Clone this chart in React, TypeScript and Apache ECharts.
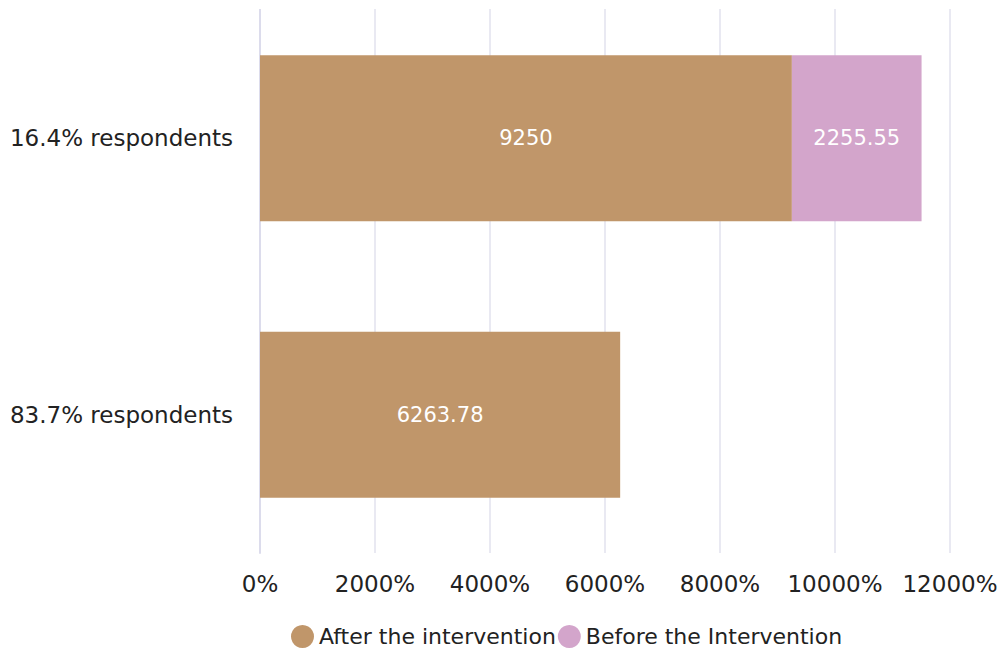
import React, { useEffect, useRef } from "react";
import * as echarts from "echarts";

const categories = ["16.4% respondents", "83.7% respondents"];
const afterValues = [9250, 6263.78];
const beforeValues: (number | null)[] = [2255.55, null];
const seriesNames = ["After the intervention", "Before the Intervention"];

export default function App() {
  const ref = useRef<HTMLDivElement>(null);
  useEffect(() => {
    if (!ref.current) return;
    const chart = echarts.init(ref.current, null, { renderer: "svg" });
    const font = "DejaVu Sans";
    chart.setOption({
      animation: false,
      textStyle: { fontFamily: font },
      grid: { left: 260, right: 54, top: 0, bottom: 100 },
      graphic: [
        {
          type: "rect",
          left: 250,
          top: 0,
          z: 100,
          shape: { width: 760, height: 9 },
          style: { fill: "#fff" },
        },
      ],
      legend: {
        bottom: 0,
        left: 286,
        icon: "circle",
        itemWidth: 23,
        itemHeight: 23,
        itemGap: 2,
        textStyle: { fontSize: 22, color: "#222", fontFamily: font },
        data: seriesNames,
      },
      xAxis: {
        type: "value",
        min: 0,
        max: 12000,
        interval: 2000,
        axisLine: { show: false },
        axisTick: { show: false },
        splitLine: { show: true, lineStyle: { color: "#e2e2ee", width: 1.5 } },
        axisLabel: {
          formatter: (v: number) => v + "%",
          fontSize: 23,
          color: "#222",
          margin: 19,
          fontFamily: font,
        },
      },
      yAxis: {
        type: "category",
        data: categories,
        inverse: true,
        axisLine: { show: true, lineStyle: { color: "#dcdcec", width: 2 } },
        axisTick: { show: false },
        axisLabel: { fontSize: 23, color: "#222", margin: 27, fontFamily: font },
      },
      series: [
        {
          name: seriesNames[0],
          type: "bar",
          stack: "total",
          barWidth: "60%",
          data: afterValues,
          itemStyle: { color: "#c0966a" },
          label: { show: true, position: "inside", color: "#fff", fontSize: 21, fontFamily: font },
        },
        {
          name: seriesNames[1],
          type: "bar",
          stack: "total",
          barWidth: "60%",
          data: beforeValues,
          itemStyle: { color: "#d3a5cb" },
          label: { show: true, position: "inside", color: "#fff", fontSize: 21, fontFamily: font },
        },
      ],
    });
    return () => chart.dispose();
  }, []);
  return (
    <div
      ref={ref}
      style={{ position: "fixed", left: 0, top: 0, width: 1004, height: 653, background: "#fff" }}
    />
  );
}
